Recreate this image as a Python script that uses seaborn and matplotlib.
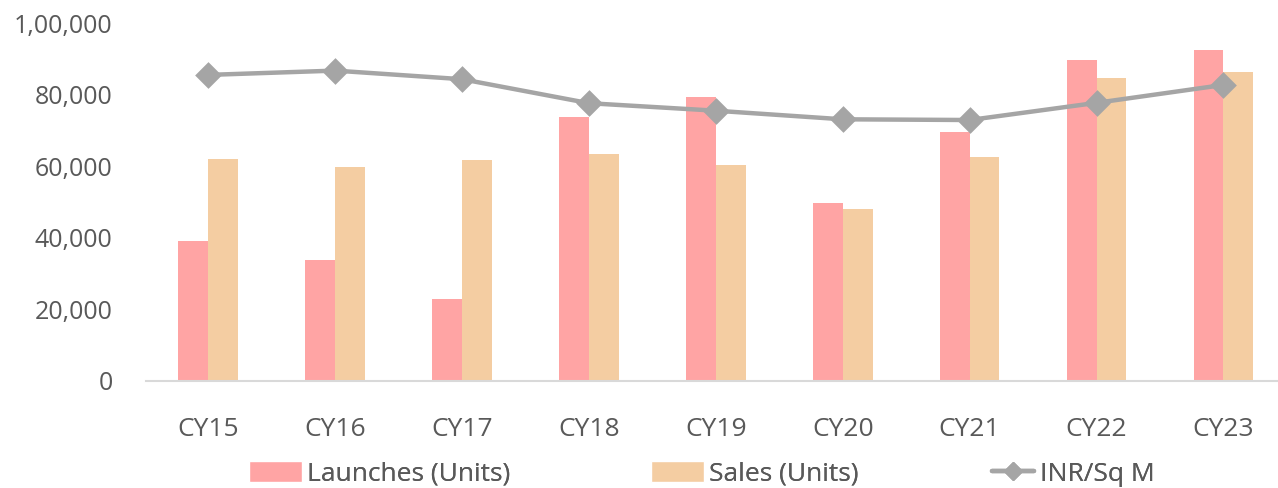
import matplotlib
matplotlib.use("Agg")
import matplotlib.pyplot as plt
import matplotlib.ticker as mticker
from matplotlib.patches import Patch
from matplotlib.lines import Line2D
import seaborn as sns
import pandas as pd

categories = ["CY15", "CY16", "CY17", "CY18", "CY19", "CY20", "CY21", "CY22", "CY23"]
launches = [39200, 33800, 22800, 73700, 79200, 49700, 69500, 89800, 92500]
sales = [62000, 59800, 61700, 63300, 60300, 48100, 62500, 84600, 86300]
inr_sqm = [85500, 86700, 84300, 77600, 75500, 73100, 72900, 77700, 82700]
y_ticks = [0, 20000, 40000, 60000, 80000, 100000]

c_launch = "#FFA4A4"
c_sales = "#F4CDA2"
c_line = "#A5A5A5"
c_text = "#595959"

sns.set_theme(style="white")
plt.rcParams["font.family"] = ["Open Sans", "DejaVu Sans"]

df = pd.DataFrame({
    "cat": categories * 2,
    "val": launches + sales,
    "series": ["Launches (Units)"] * len(categories) + ["Sales (Units)"] * len(categories),
})

W, H = 1278, 488
fig = plt.figure(figsize=(W / 100, H / 100), dpi=100)
ax = fig.add_axes([146 / W, 1 - 381 / H, (W - 146) / W, (381 - 23) / H])

sns.barplot(data=df, x="cat", y="val", hue="series", order=categories,
            palette=[c_launch, c_sales], width=0.47, gap=0, ax=ax,
            saturation=1, legend=False, errorbar=None, linewidth=0)
sns.pointplot(x=categories, y=inr_sqm, color=c_line, markers="D",
              ax=ax, errorbar=None, markersize=11, linewidth=3.2)

ax.set_xlim(-0.49, 8.43)
ax.set_ylim(0, 100000)
ax.set_yticks(y_ticks)

def indian(v, pos):
    v = int(round(v))
    s = str(v)
    if len(s) <= 3:
        return s
    last3 = s[-3:]
    rest = s[:-3]
    parts = []
    while len(rest) > 2:
        parts.insert(0, rest[-2:])
        rest = rest[:-2]
    if rest:
        parts.insert(0, rest)
    return ",".join(parts + [last3])

ax.yaxis.set_major_formatter(mticker.FuncFormatter(indian))
ax.set_xlabel("")
ax.set_ylabel("")
for s in ["top", "right", "left"]:
    ax.spines[s].set_visible(False)
ax.spines["bottom"].set_color("#D9D9D9")
ax.spines["bottom"].set_linewidth(1.5)
ax.tick_params(axis="y", length=0, labelsize=18, labelcolor=c_text, pad=24)
ax.tick_params(axis="x", length=0, labelsize=19, labelcolor=c_text, pad=26)

legend_items = [
    (Patch(facecolor=c_launch, label="Launches (Units)"), 249, 2.0),
    (Patch(facecolor=c_sales, label="Sales (Units)"), 651, 2.0),
    (Line2D([0], [0], color=c_line, lw=3.2, marker="D", markersize=9, label="INR/Sq M"), 992, 1.6),
]
for h, xpx, hl in legend_items:
    lg = fig.legend(handles=[h], loc="center left", bbox_to_anchor=(xpx / W, 1 - 474 / H),
                    frameon=False, fontsize=19, handlelength=hl, handleheight=0.85,
                    handletextpad=0.2, borderpad=0, borderaxespad=0, labelcolor=c_text)
    fig.add_artist(lg)

fig.savefig("out.png", dpi=100)
